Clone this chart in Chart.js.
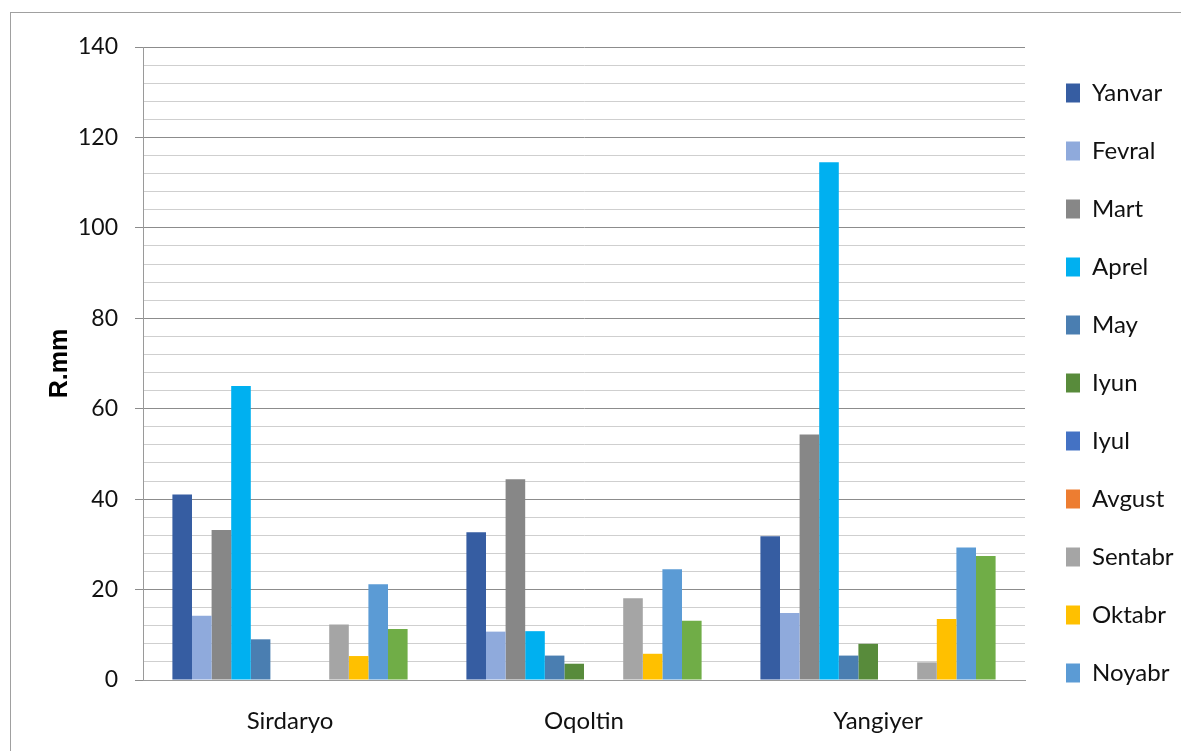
<!DOCTYPE html>
<html>
<head>
<meta charset="utf-8">
<script src="https://cdn.jsdelivr.net/npm/chart.js@4.4.1/dist/chart.umd.min.js"></script>
<style>
  body { margin: 0; background: #fff; overflow: hidden; }
  #wrap { position: relative; width: 1181px; height: 751px; }
  #frame { position: absolute; left: 10px; top: 12px; right: -5px; bottom: -5px; border: 1px solid #a0a0a0; }
  canvas { position: absolute; left: 0; top: 0; }
</style>
</head>
<body>
<div id="wrap">
  <div id="frame"></div>
  <canvas id="chart" width="1181" height="751"></canvas>
</div>
<script>
// === Ma'lumotlar ===
const cities = ["Sirdaryo", "Oqoltin", "Yangiyer"];
const months = ["Yanvar", "Fevral", "Mart", "Aprel", "May", "Iyun", "Iyul", "Avgust", "Sentabr", "Oktabr", "Noyabr", "Dekabr"];
const monthColors = ["#365DA2", "#8FAADC", "#878787", "#00B0F0", "#4A7EB1", "#588B3B", "#4472C4", "#ED7D31", "#A5A5A5", "#FFC000", "#5B9BD5", "#70AD47"];

// oylar bo'yicha yog'in, mm
const sirdaryo = [41, 14.2, 33.2, 65, 9, 0, 0, 0, 12.3, 5.3, 21.2, 11.3];
const oqoltin  = [32.7, 10.7, 44.4, 10.8, 5.4, 3.6, 0, 0, 18.1, 5.8, 24.5, 13.1];
const yangiyer = [31.8, 14.8, 54.3, 114.5, 5.4, 8, 0, 0, 3.9, 13.5, 29.3, 27.4];

const yTitle = "R.mm";

const font = "Lato, 'Open Sans', sans-serif";

const datasets = months.map((m, i) => ({
  label: m,
  data: [sirdaryo[i], oqoltin[i], yangiyer[i]],
  backgroundColor: monthColors[i],
  borderWidth: 0,
  categoryPercentage: 0.8,
  barPercentage: 1.0
}));

const isMajor = ctx => ctx.tick && ctx.tick.value % 20 === 0;

// === Diagramma ===
new Chart(document.getElementById("chart").getContext("2d"), {
  type: "bar",
  data: { labels: cities, datasets },
  options: {
    responsive: false,
    animation: false,
    layout: { padding: { top: 47, bottom: 10, left: 0, right: 0 } },
    plugins: {
      tooltip: { enabled: false },
      legend: {
        position: "right",
        align: "start",
        maxWidth: 149,
        labels: {
          color: "#111",
          font: { family: font, size: 24 },
          boxWidth: 14,
          boxHeight: 19,
          padding: 34,
          filter: item => item.text !== "Dekabr"
        }
      }
    },
    scales: {
      x: {
        grid: { display: false, drawTicks: false },
        border: { color: "#9a9a9a", width: 1 },
        ticks: { color: "#111", font: { family: font, size: 24 }, padding: 27 },
        afterFit: scale => { scale.height = 61; }
      },
      y: {
        min: 0,
        max: 140,
        ticks: {
          stepSize: 4,
          autoSkip: false,
          color: "#111",
          font: { family: font, size: 23 },
          padding: 17,
          callback: v => v % 20 === 0 ? v : ""
        },
        grid: {
          color: ctx => isMajor(ctx) ? "#8c8c8c" : "#cfcfcf",
          tickColor: ctx => isMajor(ctx) ? "#8c8c8c" : "rgba(0,0,0,0)",
          tickLength: 8,
          lineWidth: 1
        },
        border: { color: "#9a9a9a", width: 1 },
        title: {
          display: true,
          text: yTitle,
          color: "#000",
          font: { family: "'Liberation Sans', Arial, sans-serif", size: 25, weight: "bold" },
          padding: { top: 45, bottom: 0 }
        },
        afterFit: scale => { scale.width = 143; }
      },
      gap: {
        type: "linear",
        position: "right",
        display: true,
        grid: { display: false, drawTicks: false },
        border: { display: false },
        ticks: { display: false },
        afterFit: scale => { scale.width = 7; }
      }
    }
  }
});
</script>
</body>
</html>
